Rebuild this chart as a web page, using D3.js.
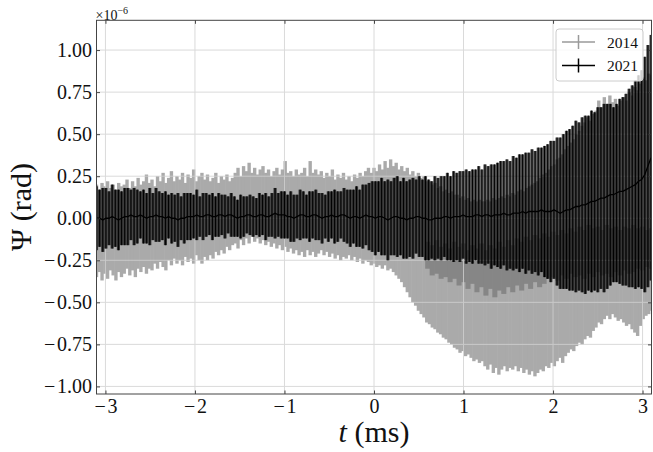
<!DOCTYPE html>
<html><head><meta charset="utf-8">
<script src="https://cdn.jsdelivr.net/npm/d3@7"></script>
<style>html,body{margin:0;padding:0;background:#fff;} svg{display:block}</style>
</head><body>
<svg id="chart" width="653" height="452"></svg>
<script>
// ---------------- data (values in units of 1e-6 rad) ----------------
const seriesNames = ["2014", "2021"];
const xTicks = [-3, -2, -1, 0, 1, 2, 3];
const yTicks = [-1.00, -0.75, -0.50, -0.25, 0.00, 0.25, 0.50, 0.75, 1.00];
const xLabel = "t", xUnit = " (ms)";
const yLabel = "Ψ (rad)";

// 2014: error-bar extents, sampled from t = -3.1 ms every 0.031 ms
const t14Start = -3.1, t14Step = 0.031;
const hi14 = [
 0.20,0.17,0.21,0.19,0.22,0.18,0.20,0.17,0.21,0.19,
 0.20,0.23,0.18,0.22,0.19,0.24,0.20,0.22,0.26,0.21,
 0.23,0.19,0.25,0.22,0.27,0.21,0.24,0.28,0.22,0.25,
 0.23,0.27,0.21,0.26,0.24,0.29,0.22,0.25,0.27,0.23,
 0.26,0.22,0.24,0.27,0.21,0.25,0.23,0.26,0.22,0.24,
 0.27,0.30,0.25,0.31,0.28,0.33,0.27,0.30,0.26,0.29,
 0.31,0.27,0.29,0.25,0.28,0.30,0.26,0.29,0.34,0.27,
 0.28,0.25,0.29,0.26,0.27,0.30,0.25,0.34,0.27,0.29,
 0.26,0.28,0.24,0.27,0.25,0.29,0.23,0.26,0.24,0.27,
 0.23,0.25,0.22,0.26,0.24,0.27,0.25,0.28,0.30,0.27,
 0.30,0.28,0.32,0.29,0.34,0.30,0.35,0.31,0.33,0.29,
 0.31,0.28,0.30,0.26,0.28,0.25,0.27,0.24,0.25,0.22,
 0.22,0.20,0.21,0.18,0.19,0.16,0.17,0.15,0.16,0.14,
 0.14,0.12,0.13,0.11,0.12,0.10,0.11,0.10,0.11,0.10,
 0.10,0.11,0.10,0.12,0.11,0.12,0.13,0.12,0.14,0.13,
 0.15,0.14,0.16,0.17,0.16,0.18,0.19,0.20,0.21,0.22,
 0.24,0.26,0.27,0.29,0.31,0.32,0.35,0.36,0.38,0.41,
 0.43,0.45,0.47,0.50,0.52,0.55,0.57,0.60,0.58,0.62,
 0.64,0.70,0.66,0.72,0.68,0.73,0.69,0.71,0.67,0.70,
 0.72,0.70,0.75,0.73,0.78,0.76,0.80,0.84,0.82,0.86,
 0.85];
const lo14 = [
 -0.35,-0.32,-0.37,-0.33,-0.36,-0.31,-0.34,-0.37,-0.32,-0.35,
 -0.33,-0.30,-0.34,-0.31,-0.35,-0.30,-0.32,-0.29,-0.33,-0.30,
 -0.31,-0.27,-0.30,-0.26,-0.29,-0.31,-0.25,-0.28,-0.24,-0.27,
 -0.25,-0.28,-0.23,-0.26,-0.24,-0.27,-0.22,-0.25,-0.27,-0.23,
 -0.25,-0.22,-0.24,-0.20,-0.22,-0.19,-0.21,-0.17,-0.19,-0.16,
 -0.15,-0.18,-0.13,-0.16,-0.12,-0.15,-0.11,-0.14,-0.12,-0.15,
 -0.13,-0.16,-0.14,-0.17,-0.15,-0.18,-0.16,-0.19,-0.17,-0.20,
 -0.18,-0.21,-0.19,-0.22,-0.20,-0.23,-0.19,-0.22,-0.20,-0.23,
 -0.21,-0.19,-0.22,-0.20,-0.23,-0.21,-0.24,-0.22,-0.25,-0.23,
 -0.24,-0.22,-0.25,-0.23,-0.26,-0.24,-0.27,-0.25,-0.26,-0.28,
 -0.27,-0.29,-0.28,-0.30,-0.28,-0.31,-0.30,-0.32,-0.34,-0.36,
 -0.38,-0.41,-0.44,-0.47,-0.50,-0.52,-0.55,-0.57,-0.59,-0.62,
 -0.63,-0.65,-0.66,-0.68,-0.69,-0.71,-0.72,-0.74,-0.75,-0.77,
 -0.78,-0.80,-0.79,-0.82,-0.81,-0.83,-0.85,-0.84,-0.86,-0.85,
 -0.88,-0.90,-0.87,-0.92,-0.89,-0.93,-0.90,-0.88,-0.91,-0.89,
 -0.90,-0.88,-0.91,-0.89,-0.92,-0.90,-0.93,-0.91,-0.94,-0.92,
 -0.90,-0.91,-0.88,-0.89,-0.86,-0.88,-0.85,-0.83,-0.86,-0.82,
 -0.80,-0.78,-0.79,-0.76,-0.74,-0.75,-0.72,-0.70,-0.71,-0.67,
 -0.65,-0.62,-0.63,-0.60,-0.58,-0.60,-0.57,-0.59,-0.61,-0.60,
 -0.62,-0.64,-0.63,-0.66,-0.68,-0.70,-0.64,-0.60,-0.58,-0.57,
 -0.55];
// 2014: overlapping (denser) part of the bars, from t = 0.6 ms every 0.05 ms
const tIn14Start = 0.6, tIn14Step = 0.05;
const inHi14 = [
 -0.14,-0.16,-0.13,-0.17,-0.15,-0.18,-0.14,-0.17,-0.15,-0.19,
 -0.16,-0.18,-0.15,-0.19,-0.16,-0.18,-0.14,-0.17,-0.13,-0.16,
 -0.12,-0.14,-0.11,-0.13,-0.10,-0.12,-0.09,-0.11,-0.08,-0.10,
 -0.07,-0.09,-0.06,-0.08,-0.05,-0.07,-0.04,-0.06,-0.05,-0.07,
 -0.04,-0.06,-0.05,-0.07,-0.05,-0.06,-0.04,-0.06,-0.05,-0.07,
 -0.06];
const inLo14 = [
 -0.30,-0.34,-0.33,-0.36,-0.35,-0.38,-0.36,-0.40,-0.38,-0.42,
 -0.39,-0.44,-0.41,-0.46,-0.42,-0.47,-0.43,-0.45,-0.41,-0.44,
 -0.40,-0.43,-0.39,-0.42,-0.38,-0.41,-0.39,-0.36,-0.35,-0.37,
 -0.34,-0.36,-0.33,-0.35,-0.34,-0.36,-0.33,-0.35,-0.32,-0.34,
 -0.33,-0.35,-0.32,-0.34,-0.31,-0.33,-0.32,-0.30,-0.31,-0.29,
 -0.30];

// 2021: centre values and error half-widths, from t = -3.1 ms every 0.035 ms
const t21Start = -3.1, t21Step = 0.035;
const c21 = [
 0.00,0.00,-0.01,0.00,0.00,0.01,0.00,-0.01,0.00,0.01,
 0.01,0.02,0.01,0.01,0.02,0.01,0.00,0.01,0.01,0.02,
 0.01,0.01,0.00,0.01,0.00,0.00,-0.01,0.00,0.00,0.01,
 0.01,0.01,0.02,0.01,0.01,0.02,0.02,0.01,0.01,0.02,
 0.02,0.01,0.02,0.02,0.01,0.00,0.01,0.01,0.02,0.02,
 0.01,0.01,0.02,0.02,0.01,0.01,0.02,0.03,0.02,0.02,
 0.02,0.01,0.01,0.00,0.01,0.02,0.02,0.01,0.01,0.02,
 0.02,0.01,0.00,0.01,0.01,0.02,0.01,0.01,0.02,0.02,
 0.01,0.00,0.01,0.01,0.00,0.01,0.02,0.01,0.01,0.00,
 0.01,0.01,0.00,-0.01,0.00,0.01,0.01,0.00,0.00,-0.01,
 0.00,0.00,0.01,0.01,0.00,0.00,-0.01,-0.01,0.00,0.00,
 0.00,0.01,0.01,0.00,0.01,0.01,0.01,0.02,0.01,0.01,
 0.01,0.02,0.02,0.01,0.02,0.02,0.01,0.02,0.02,0.02,
 0.03,0.02,0.02,0.03,0.03,0.03,0.04,0.03,0.04,0.04,
 0.04,0.04,0.05,0.04,0.04,0.04,0.05,0.04,0.03,0.04,
 0.05,0.05,0.06,0.07,0.07,0.08,0.08,0.09,0.10,0.10,
 0.11,0.12,0.12,0.13,0.14,0.14,0.15,0.16,0.16,0.17,
 0.18,0.19,0.20,0.22,0.23,0.26,0.31,0.36];
const e21 = [
 0.19,0.17,0.19,0.18,0.16,0.19,0.17,0.18,0.16,0.17,
 0.17,0.15,0.17,0.16,0.14,0.16,0.15,0.17,0.14,0.16,
 0.15,0.14,0.16,0.13,0.15,0.14,0.16,0.13,0.15,0.14,
 0.14,0.13,0.15,0.12,0.14,0.13,0.12,0.14,0.12,0.13,
 0.12,0.13,0.11,0.13,0.12,0.11,0.13,0.12,0.11,0.12,
 0.12,0.11,0.13,0.12,0.14,0.12,0.13,0.15,0.13,0.14,
 0.14,0.13,0.15,0.14,0.13,0.15,0.14,0.13,0.15,0.14,
 0.15,0.14,0.15,0.13,0.15,0.14,0.16,0.15,0.14,0.16,
 0.16,0.17,0.16,0.18,0.17,0.19,0.18,0.20,0.21,0.22,
 0.21,0.23,0.22,0.24,0.22,0.23,0.24,0.22,0.24,0.23,
 0.23,0.24,0.22,0.24,0.23,0.25,0.24,0.23,0.25,0.24,
 0.25,0.24,0.26,0.25,0.27,0.26,0.27,0.26,0.28,0.27,
 0.28,0.27,0.29,0.28,0.30,0.29,0.31,0.30,0.31,0.32,
 0.31,0.33,0.32,0.34,0.33,0.35,0.34,0.36,0.35,0.37,
 0.36,0.38,0.37,0.39,0.40,0.42,0.41,0.44,0.45,0.46,
 0.47,0.48,0.49,0.51,0.50,0.52,0.53,0.52,0.54,0.53,
 0.55,0.54,0.56,0.55,0.54,0.52,0.53,0.55,0.56,0.57,
 0.59,0.60,0.62,0.63,0.65,0.70,0.72,0.73];

// ---------------- chart ----------------
const W = 653, H = 452;
const L = 96.5, R = 651.5, T = 20.3, B = 394;
const FONT = "'Liberation Serif','Times New Roman',serif";
const svg = d3.select("#chart");
const x = d3.scaleLinear().domain([-3.1, 3.1]).range([L, R]);
const y = d3.scaleLinear().domain([-1.045, 1.177]).range([B, T]);

const d14 = hi14.map((h, i) => ({t: t14Start + i * t14Step, lo: lo14[i], hi: h}));
const dIn14 = inHi14.map((h, i) => ({t: tIn14Start + i * tIn14Step, lo: inLo14[i], hi: h}));
const d21 = c21.map((c, i) => ({t: t21Start + i * t21Step, c: c, e: e21[i]}));

svg.append("defs").append("clipPath").attr("id", "clip")
  .append("rect").attr("x", L).attr("y", T).attr("width", R - L).attr("height", B - T);

const plot = svg.append("g").attr("clip-path", "url(#clip)");

// 2014 bars
const w14 = x(t14Step) - x(0);
plot.append("g").selectAll("rect").data(d14).join("rect")
  .attr("x", d => x(d.t) - w14 / 2 - 0.3).attr("width", w14 + 0.6)
  .attr("y", d => y(d.hi)).attr("height", d => y(d.lo) - y(d.hi))
  .attr("fill", "#aaaaaa");
const wIn = x(tIn14Step) - x(0);
plot.append("g").selectAll("rect").data(dIn14).join("rect")
  .attr("x", d => x(d.t) - wIn / 2 - 0.3).attr("width", wIn + 0.6)
  .attr("y", d => y(d.hi)).attr("height", d => y(d.lo) - y(d.hi))
  .attr("fill", "#868686");

// grid
const grid = svg.append("g").attr("stroke", "#d2d2d2").attr("stroke-width", 1).attr("opacity", 0.8);
grid.selectAll(".gx").data(xTicks).join("line")
  .attr("x1", d => x(d)).attr("x2", d => x(d)).attr("y1", T).attr("y2", B);
grid.selectAll(".gy").data(yTicks).join("line")
  .attr("x1", L).attr("x2", R).attr("y1", d => y(d)).attr("y2", d => y(d));

// 2021 bars
const w21 = x(t21Step) - x(0);
const p21 = svg.append("g").attr("clip-path", "url(#clip)");
p21.append("g").selectAll("rect").data(d21).join("rect")
  .attr("x", d => x(d.t) - w21 / 2).attr("width", w21)
  .attr("y", d => y(d.c + d.e)).attr("height", d => y(d.c - d.e) - y(d.c + d.e))
  .attr("fill", "#000").attr("fill-opacity", 0.7);
p21.append("g").selectAll("line").data(d21).join("line")
  .attr("x1", d => x(d.t)).attr("x2", d => x(d.t))
  .attr("y1", d => y(d.c + d.e)).attr("y2", d => y(d.c - d.e))
  .attr("stroke", "#000").attr("stroke-width", 1);
p21.append("path").datum(d21)
  .attr("d", d3.line().x(d => x(d.t)).y(d => y(d.c)))
  .attr("fill", "none").attr("stroke", "#000").attr("stroke-width", 1.3);

// axes
const fmtX = d => (d < 0 ? "\u2212\u200a" + Math.abs(d) : String(d));
const fmtY = d => (d < 0 ? "\u2212\u200a" + Math.abs(d).toFixed(2) : d.toFixed(2));
const ax = svg.append("g");
ax.append("g").attr("transform", `translate(0,${B})`)
  .call(d3.axisBottom(x).tickValues(xTicks).tickSizeInner(-3.5).tickSizeOuter(0).tickPadding(5).tickFormat(fmtX));
ax.append("g").attr("transform", `translate(${L},0)`)
  .call(d3.axisLeft(y).tickValues(yTicks).tickSizeInner(-3.5).tickSizeOuter(0).tickPadding(4.5).tickFormat(fmtY));
ax.append("g").attr("transform", `translate(0,${T})`)
  .call(d3.axisTop(x).tickValues(xTicks).tickSizeInner(-3.5).tickSizeOuter(0).tickFormat(""));
ax.append("g").attr("transform", `translate(${R},0)`)
  .call(d3.axisRight(y).tickValues(yTicks).tickSizeInner(-3.5).tickSizeOuter(0).tickFormat(""));
ax.selectAll(".domain").remove();
ax.selectAll(".tick line").attr("stroke", "#333").attr("stroke-width", 0.9);
ax.selectAll(".tick text").attr("font-family", FONT).attr("font-size", 20).attr("fill", "#111");

// spines
svg.append("rect").attr("x", L).attr("y", T).attr("width", R - L).attr("height", B - T)
  .attr("fill", "none").attr("stroke", "#444").attr("stroke-width", 1);

// offset text
const off = svg.append("text").attr("x", L - 1).attr("y", T - 0.5)
  .attr("font-family", FONT).attr("font-size", 14).attr("fill", "#111");
off.append("tspan").text("×10");
off.append("tspan").attr("dy", -6).attr("font-size", 10).text("\u22126");

// axis labels
svg.append("text").attr("transform", `translate(31,207) rotate(-90)`)
  .attr("text-anchor", "middle").attr("font-family", FONT).attr("font-size", 30).attr("fill", "#111")
  .text(yLabel);
const xl = svg.append("text").attr("x", 374).attr("y", 442).attr("text-anchor", "middle")
  .attr("font-family", FONT).attr("font-size", 30).attr("fill", "#111");
xl.append("tspan").attr("font-style", "italic").text(xLabel);
xl.append("tspan").text(xUnit);

// legend
const lg = svg.append("g").attr("transform", "translate(556,29)");
lg.append("rect").attr("width", 87).attr("height", 52).attr("rx", 3)
  .attr("fill", "#fff").attr("fill-opacity", 0.8).attr("stroke", "#cccccc").attr("stroke-width", 1);
const legendColors = ["#9a9a9a", "#000000"];
seriesNames.forEach((name, i) => {
  const g = lg.append("g").attr("transform", `translate(0,${13 + i * 23.5})`);
  g.append("line").attr("x1", 6).attr("x2", 39).attr("y1", 0).attr("y2", 0)
    .attr("stroke", legendColors[i]).attr("stroke-width", 1.5);
  g.append("line").attr("x1", 22.5).attr("x2", 22.5).attr("y1", -7).attr("y2", 7)
    .attr("stroke", legendColors[i]).attr("stroke-width", 1.5);
  g.append("text").attr("x", 51).attr("y", 5.5).attr("font-family", FONT).attr("font-size", 15.5)
    .attr("fill", "#111").text(name);
});
</script>
</body></html>
